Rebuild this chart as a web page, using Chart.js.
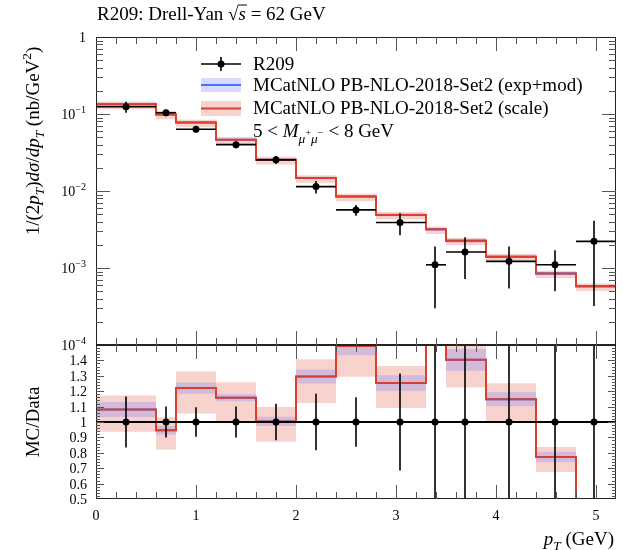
<!DOCTYPE html>
<html>
<head>
<meta charset="utf-8">
<title>R209 Drell-Yan pT</title>
<script src="https://cdn.jsdelivr.net/npm/chart.js@4.4.1/dist/chart.umd.min.js"></script>
<style>
  body { margin: 0; background: #fff; }
  .panel { position: absolute; left: 0; }
</style>
</head>
<body>
<canvas id="main" class="panel" style="top:0" width="623" height="355"></canvas>
<canvas id="ratio" class="panel" style="top:335px" width="623" height="215"></canvas>
<script>
// pT bins (GeV) and measured cross sections
const binEdges = [0, 0.6, 0.8, 1.2, 1.6, 2.0, 2.4, 2.8, 3.3, 3.5, 3.9, 4.4, 4.8, 5.2]
const dataX = [0.30, 0.70, 1.00, 1.40, 1.80, 2.20, 2.60, 3.04, 3.39, 3.69, 4.13, 4.59, 4.98]
const dataY = [0.124, 0.104, 0.0635, 0.0400, 0.0254, 0.0114, 0.00568, 0.00390, 0.00110, 0.00161, 0.00122, 0.00110, 0.00222]
const dataErr = [0.0205, 0.0104, 0.0061, 0.0040, 0.0030, 0.0021, 0.00091, 0.00123, 0.00080, 0.00089, 0.00068, 0.00060, 0.00190]

// MCatNLO prediction, with relative band widths
const mcY = [0.134, 0.0985, 0.0775, 0.0463, 0.0255, 0.01477, 0.00848, 0.00489, 0.00318, 0.00226, 0.00140, 0.00085, 0.000578]
const mcExpErr = [0.045, 0.03, 0.03, 0.02, 0.03, 0.035, 0.04, 0.04, 0.04, 0.05, 0.04, 0.045, 0.05]
const mcScaleUp = [0.084, 0.089, 0.088, 0.087, 0.093, 0.086, 0.09, 0.088, 0.09, 0.09, 0.09, 0.085, 0.09]
const mcScaleDn = [0.133, 0.133, 0.135, 0.132, 0.132, 0.133, 0.133, 0.13, 0.13, 0.128, 0.127, 0.125, 0.13]

const xTickLabels = ['0', '1', '2', '3', '4', '5']
const logTickExps = [0, -1, -2, -3, -4]
const ratioTickLabels = ['0.5', '0.6', '0.7', '0.8', '0.9', '1', '1.1', '1.2', '1.3', '1.4']

const red = '#d9402f'
const pink = 'rgba(228, 90, 70, 0.27)'
const blue = '#4f6ef7'
const lightBlue = 'rgba(90, 110, 255, 0.25)'
const serif = '"Liberation Serif", "Times New Roman", serif'
const tickColor = '#555'
const textSize = 19

// histogram as a stepped line through the bin edges
const steps = vals => binEdges.map((e, i) => ({x: e, y: vals[Math.min(i, vals.length - 1)]}))

const stepLine = (vals, color, order) => ({
    data: steps(vals), borderColor: color, borderWidth: 2, stepped: true,
    pointRadius: 0, fill: false, order: order
})
const band = (vals, color, order) => ({
    data: steps(vals), borderColor: 'transparent', borderWidth: 0, stepped: true,
    pointRadius: 0, fill: color ? '-1' : false, backgroundColor: color || 'transparent', order: order
})
const points = (ys, errs) => ({
    data: dataX.map((x, i) => ({x: x, y: ys[i]})), errs: errs, showLine: false,
    pointRadius: 3.5, pointBackgroundColor: '#000', pointBorderColor: '#000', pointBorderWidth: 0, order: 0
})

// text made of pieces: [text, italic, size factor, vertical shift factor]
const rich = (ctx, pieces, x, y, size, align) => {
    const parts = pieces.map(([t, it, sc, dy]) => {
        ctx.font = (it ? 'italic ' : '') + (size * sc) + 'px ' + serif
        return {t: t, font: ctx.font, w: ctx.measureText(t).width, dy: dy * size}
    })
    const total = parts.reduce((s, p) => s + p.w, 0)
    let cx = align === 'right' ? x - total : align === 'center' ? x - total / 2 : x
    parts.forEach(p => {
        p.x = cx
        ctx.font = p.font
        ctx.fillText(p.t, cx, y + p.dy)
        cx += p.w
    })
    return parts
}

const seg = (ctx, x0, y0, x1, y1) => {
    ctx.beginPath()
    ctx.moveTo(x0, y0)
    ctx.lineTo(x1, y1)
    ctx.stroke()
}

const frame = (ctx, a) => {
    ctx.strokeStyle = '#222'
    ctx.lineWidth = 1
    ctx.strokeRect(a.left + 0.5, a.top + 0.5, a.width - 1, a.height - 1)
}

const xTicks = (ctx, chart) => {
    const {chartArea: a, scales: {x}} = chart
    ctx.strokeStyle = tickColor
    ctx.lineWidth = 1
    for (let i = 1; i < 26; i++) {
        const px = Math.round(x.getPixelForValue(i / 5)) + 0.5
        const len = i % 5 === 0 ? 14 : 7
        seg(ctx, px, a.bottom, px, a.bottom - len)
        seg(ctx, px, a.top, px, a.top + len)
    }
}

const yTick = (ctx, a, py, len) => {
    py = Math.round(py) + 0.5
    seg(ctx, a.left, py, a.left + len, py)
    seg(ctx, a.right, py, a.right - len, py)
}

const errorBars = {
    id: 'errorBars',
    afterDatasetsDraw(chart) {
        const {ctx, chartArea: a, scales: {x, y}} = chart
        ctx.save()
        ctx.beginPath()
        ctx.rect(a.left, a.top, a.width, a.height)
        ctx.clip()
        ctx.strokeStyle = '#000'
        ctx.lineWidth = 1.6
        chart.data.datasets.forEach(ds => {
            if (!ds.errs) return
            ds.data.forEach((p, i) => {
                const px = x.getPixelForValue(p.x)
                const py = y.getPixelForValue(p.y)
                seg(ctx, x.getPixelForValue(binEdges[i]), py, x.getPixelForValue(binEdges[i + 1]), py)
                seg(ctx, px, y.getPixelForValue(p.y + ds.errs[i]), px, y.getPixelForValue(p.y - ds.errs[i]))
            })
        })
        ctx.restore()
    }
}

const mainDeco = {
    id: 'mainDeco',
    afterDraw(chart) {
        const {ctx, chartArea: a, scales: {y}} = chart
        ctx.save()
        frame(ctx, a)
        xTicks(ctx, chart)
        for (let d = -4; d < 0; d++) {
            for (let m = 1; m < 10; m++) {
                yTick(ctx, a, y.getPixelForValue(m * Math.pow(10, d)), m === 1 ? 14 : 7)
            }
        }
        ctx.fillStyle = '#000'
        logTickExps.forEach(e => {
            const py = y.getPixelForValue(Math.pow(10, e)) + 5
            if (e === 0) rich(ctx, [['1', 0, 1, 0]], 86, py, 14, 'right')
            else rich(ctx, [['10', 0, 1, 0], ['\u2212' + (-e), 0, 0.72, -0.45]], 86, py, 14, 'right')
        })

        // title
        const t = rich(ctx, [['R209: Drell-Yan ', 0, 1, 0], ['\u221a', 0, 1, 0], ['s', 1, 1, 0], [' = 62 GeV', 0, 1, 0]], 97, 20, textSize, 'left')
        ctx.strokeStyle = '#000'
        ctx.lineWidth = 1
        seg(ctx, t[1].x + t[1].w - 0.5, 20 - 15, t[2].x + t[2].w + 1, 20 - 15)

        // y axis title
        ctx.save()
        ctx.translate(39, 141)
        ctx.rotate(-Math.PI / 2)
        rich(ctx, [['1/(2', 0, 1, 0], ['p', 1, 1, 0], ['T', 1, 0.7, 0.25], [')', 0, 1, 0], ['d\u03c3', 1, 1, 0], ['/', 0, 1, 0],
            ['dp', 1, 1, 0], ['T', 1, 0.7, 0.25], [' (nb/GeV', 0, 1, 0], ['2', 0, 0.7, -0.4], [')', 0, 1, 0]], 0, 0, textSize, 'center')
        ctx.restore()

        // legend
        const lx0 = 201, lx1 = 241, tx = 253
        ctx.strokeStyle = '#000'
        ctx.lineWidth = 1.6
        seg(ctx, lx0, 64, lx1, 64)
        seg(ctx, 221, 57, 221, 71)
        ctx.beginPath()
        ctx.arc(221, 64, 3.5, 0, Math.PI * 2)
        ctx.fill()
        rich(ctx, [['R209', 0, 1, 0]], tx, 70, textSize, 'left')

        ctx.fillStyle = lightBlue
        ctx.fillRect(lx0, 78, lx1 - lx0, 14)
        ctx.strokeStyle = blue
        ctx.lineWidth = 2
        seg(ctx, lx0, 85, lx1, 85)
        ctx.fillStyle = '#000'
        rich(ctx, [['MCatNLO PB-NLO-2018-Set2 (exp+mod)', 0, 1, 0]], tx, 91, textSize, 'left')

        ctx.fillStyle = pink
        ctx.fillRect(lx0, 101, lx1 - lx0, 15)
        ctx.strokeStyle = red
        seg(ctx, lx0, 108.5, lx1, 108.5)
        ctx.fillStyle = '#000'
        rich(ctx, [['MCatNLO PB-NLO-2018-Set2 (scale)', 0, 1, 0]], tx, 114, textSize, 'left')

        rich(ctx, [['5 < ', 0, 1, 0], ['M', 1, 1, 0], ['\u03bc', 1, 0.7, 0.3], ['+', 0, 0.55, -0.05],
            ['\u03bc', 1, 0.7, 0.3], ['\u2212', 0, 0.55, -0.05], [' < 8 GeV', 0, 1, 0]], tx, 137, textSize, 'left')
        ctx.restore()
    }
}

const ratioDeco = {
    id: 'ratioDeco',
    afterDraw(chart) {
        const {ctx, chartArea: a, scales: {x, y}} = chart
        ctx.save()
        frame(ctx, a)
        xTicks(ctx, chart)
        for (let i = 1; i < 50; i++) {
            yTick(ctx, a, y.getPixelForValue(0.5 + i / 50), i % 5 === 0 ? 8 : 4)
        }
        ctx.fillStyle = '#000'
        ratioTickLabels.forEach(l => {
            rich(ctx, [[l, 0, 1, 0]], 87, y.getPixelForValue(parseFloat(l)) + 5, 14, 'right')
        })
        xTickLabels.forEach(l => {
            rich(ctx, [[l, 0, 1, 0]], x.getPixelForValue(Number(l)), a.bottom + 21, 14, 'center')
        })
        rich(ctx, [['p', 1, 1, 0], ['T', 1, 0.7, 0.25], [' (GeV)', 0, 1, 0]], 614, a.bottom + 46, textSize, 'right')

        ctx.save()
        ctx.translate(39, y.getPixelForValue(1))
        ctx.rotate(-Math.PI / 2)
        rich(ctx, [['MC/Data', 0, 1, 0]], 0, 0, textSize, 'center')
        ctx.restore()
        ctx.restore()
    }
}

const chartOptions = (yScale, padding) => ({
    responsive: false,
    animation: false,
    events: [],
    layout: {padding: padding},
    plugins: {legend: {display: false}, tooltip: {enabled: false}},
    scales: {
        x: {type: 'linear', min: binEdges[0], max: binEdges[binEdges.length - 1], display: false},
        y: yScale
    }
})

const mainChart = () => {
    new Chart('main', {
        type: 'line',
        data: {
            datasets: [
                stepLine(mcY, red, 1),
                stepLine(mcY, blue, 2),
                band(mcY.map((v, i) => v * (1 - mcScaleDn[i])), null, 5),
                band(mcY.map((v, i) => v * (1 + mcScaleUp[i])), pink, 5),
                band(mcY.map((v, i) => v * (1 - mcExpErr[i])), null, 4),
                band(mcY.map((v, i) => v * (1 + mcExpErr[i])), lightBlue, 4),
                points(dataY, dataErr)
            ]
        },
        options: chartOptions({type: 'logarithmic', min: 1e-4, max: 1, display: false},
            {left: 96, right: 7, top: 37, bottom: 10}),
        plugins: [errorBars, mainDeco]
    })
}

const ratioChart = () => {
    const ratio = mcY.map((v, i) => v / dataY[i])
    const last = binEdges[binEdges.length - 1]
    new Chart('ratio', {
        type: 'line',
        data: {
            datasets: [
                {data: [{x: binEdges[0], y: 1}, {x: last, y: 1}], borderColor: '#000', borderWidth: 2, pointRadius: 0, order: 0.5},
                stepLine(ratio, red, 1),
                stepLine(ratio, blue, 2),
                band(ratio.map((v, i) => v * (1 - mcScaleDn[i])), null, 5),
                band(ratio.map((v, i) => v * (1 + mcScaleUp[i])), pink, 5),
                band(ratio.map((v, i) => v * (1 - mcExpErr[i])), null, 4),
                band(ratio.map((v, i) => v * (1 + mcExpErr[i])), lightBlue, 4),
                points(dataX.map(() => 1), dataErr.map((e, i) => e / dataY[i]))
            ]
        },
        options: chartOptions({type: 'linear', min: 0.5, max: 1.5, display: false},
            {left: 96, right: 7, top: 10, bottom: 51}),
        plugins: [errorBars, ratioDeco]
    })
}

mainChart()
ratioChart()
</script>
</body>
</html>
